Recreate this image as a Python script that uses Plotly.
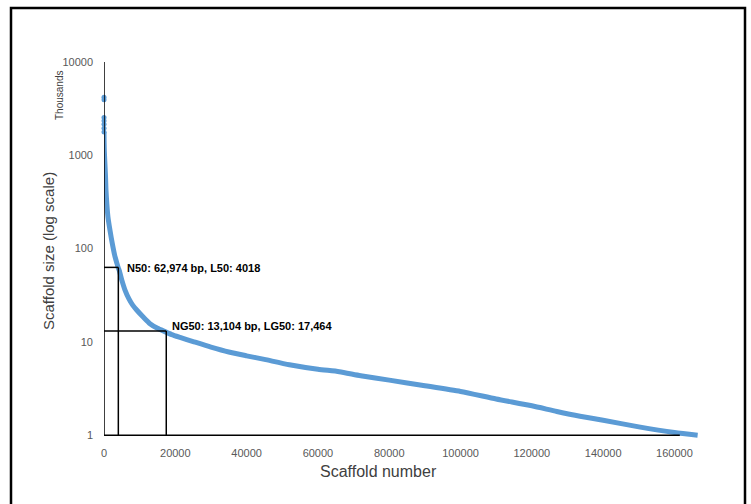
import plotly.graph_objects as go

# Largest scaffolds (drawn as separate dots at the top)
top_rank = [1, 2, 3, 4, 5, 6, 7]
top_size_kb = [4200, 3950, 2550, 2350, 2150, 1950, 1780]

# Sorted scaffold sizes (kb) by scaffold rank
rank = [8, 40, 100, 200, 300, 450, 560, 800, 1100, 1683, 2300, 3086, 3600, 4018, 4300,
        5000, 5890, 7000, 8000, 9170, 11000, 12900, 15000, 17110, 19000, 21320, 25000,
        30000, 35000, 40000, 45000, 52000, 60000, 66000, 72000, 80000, 90000, 100000,
        110000, 120000, 127000, 133500, 140000, 150000, 160000, 166500]
size_kb = [1650, 1350, 1100, 900, 750, 560, 420, 300, 220, 157, 115, 82, 70, 62, 58,
           46, 36, 29, 25, 22, 18.5, 15.7, 14, 12.9, 12, 11.2, 10.1,
           8.8, 7.8, 7.1, 6.5, 5.7, 5.1, 4.8, 4.35, 3.9, 3.4, 2.95,
           2.45, 2.07, 1.8, 1.6, 1.45, 1.23, 1.07, 1.0]

x_ticks = [0, 20000, 40000, 60000, 80000, 100000, 120000, 140000, 160000]
y_ticks = [1, 10, 100, 1000, 10000]
y_tick_text = ["1", "10", "100", "1000", "10000"]

n50_kb, l50 = 62.974, 4018
ng50_kb, lg50 = 13.104, 17464

W, H = 751, 504
L, R, T, B = 104, 48, 62, 65
pw, ph = W - L - R, H - T - B


def px(x):
    return (x - L) / pw


def py(y):
    return (H - B - y) / ph


blue = "#5B9BD5"
sans = "Liberation Sans, Arial, sans-serif"

fig = go.Figure()
fig.add_trace(go.Scatter(x=top_rank, y=top_size_kb, mode="markers",
                         marker=dict(color=blue, size=5), showlegend=False,
                         cliponaxis=False, hoverinfo="skip"))
fig.add_trace(go.Scatter(x=[top_rank[-1]] + rank, y=[top_size_kb[-1]] + size_kb,
                         mode="lines", line=dict(color=blue, width=5, shape="spline",
                                                 smoothing=0.6),
                         showlegend=False, hoverinfo="skip"))

blk = dict(color="black", width=1.5)
shapes = [
    # axes
    dict(type="line", xref="x", yref="y", x0=0, x1=0, y0=1, y1=10000, line=blk),
    dict(type="line", xref="x", yref="y", x0=0, x1=161500, y0=1, y1=1, line=blk),
    # N50
    dict(type="line", xref="x", yref="y", x0=0, x1=l50, y0=n50_kb, y1=n50_kb, line=blk),
    dict(type="line", xref="x", yref="y", x0=l50, x1=l50, y0=1, y1=n50_kb, line=blk),
    # NG50
    dict(type="line", xref="x", yref="y", x0=0, x1=lg50, y0=ng50_kb, y1=ng50_kb, line=blk),
    dict(type="line", xref="x", yref="y", x0=lg50, x1=lg50, y0=1, y1=ng50_kb, line=blk),
    # outer frame
    dict(type="rect", xref="paper", yref="paper", x0=px(11), x1=px(745),
         y0=py(515), y1=py(8), line=dict(color="black", width=2.5), layer="below"),
]

annotations = [
    dict(text="<b>N50: 62,974 bp, L50: 4018</b>", xref="paper", yref="paper",
         x=px(125), y=py(268), xanchor="left", yanchor="middle", showarrow=False,
         font=dict(family=sans, size=11, color="black")),
    dict(text="<b>NG50: 13,104 bp, LG50: 17,464</b>", xref="paper", yref="paper",
         x=px(170), y=py(326), xanchor="left", yanchor="middle", showarrow=False,
         font=dict(family=sans, size=11, color="black")),
    dict(text="Scaffold number", xref="paper", yref="paper", x=px(378), y=py(472),
         xanchor="center", yanchor="middle", showarrow=False,
         font=dict(family=sans, size=16, color="#404040")),
    dict(text="Scaffold size (log scale)", xref="paper", yref="paper", x=px(48),
         y=py(251), xanchor="center", yanchor="middle", showarrow=False, textangle=-90,
         font=dict(family=sans, size=15, color="#404040")),
    dict(text="Thousands", xref="paper", yref="paper", x=px(60), y=py(96),
         xanchor="center", yanchor="middle", showarrow=False, textangle=-90,
         font=dict(family=sans, size=10, color="#404040")),
]

fig.update_layout(
    template="none",
    width=W, height=H,
    margin=dict(l=L, r=R, t=T, b=B),
    paper_bgcolor="white", plot_bgcolor="white",
    font=dict(family=sans, color="#595959"),
    shapes=shapes, annotations=annotations,
    xaxis=dict(range=[0, 168000], tickvals=x_ticks, ticktext=[str(v) for v in x_ticks],
               showgrid=False, zeroline=False, showline=False, ticks="",
               ticklabelstandoff=6,
               tickfont=dict(family=sans, size=11, color="#595959")),
    yaxis=dict(type="log", range=[-0.04, 4.0], tickvals=y_ticks, ticktext=y_tick_text,
               showgrid=False, zeroline=False, showline=False, ticks="",
               ticklabelstandoff=10,
               tickfont=dict(family=sans, size=11, color="#595959")),
)

fig.write_html("out.html", config={"displayModeBar": False},
               post_script="document.body.style.margin='0';document.body.style.padding='0';")
